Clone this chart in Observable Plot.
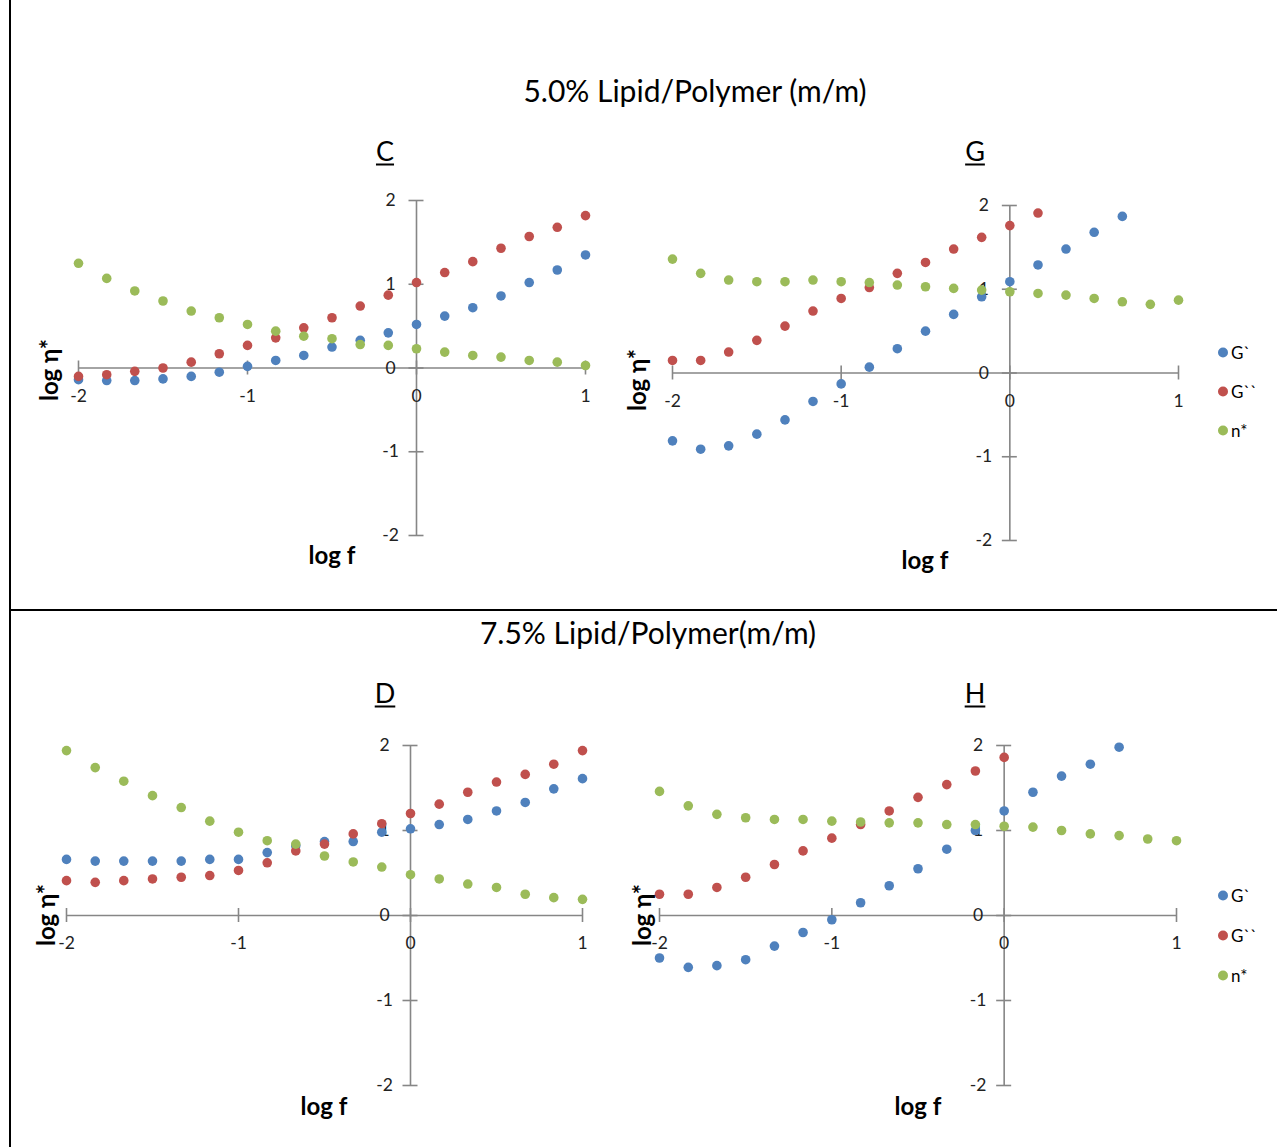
<!DOCTYPE html>
<html><head><meta charset="utf-8">
<script src="https://cdn.jsdelivr.net/npm/d3@7"></script>
<script src="https://cdn.jsdelivr.net/npm/@observablehq/plot@0.6"></script>
<style>
body{margin:0;background:#fff;}
#page{position:relative;width:1277px;height:1147px;font-family:Lato,"Open Sans",sans-serif;overflow:hidden;background:#fff;}
.abs{position:absolute;white-space:nowrap;transform:translate(-50%,-50%);color:#000;}
.title{font-size:30px;}
.letter{font-size:27px;text-decoration:underline;text-underline-offset:3px;text-decoration-thickness:2px;}
.axt{font-size:24px;font-weight:bold;}
.rot{transform:translate(-50%,-50%) rotate(-90deg);}
.leg{position:absolute;font-size:17px;display:flex;align-items:center;transform:translateY(-50%);}
.leg span.dot{display:inline-block;width:10px;height:10px;border-radius:50%;margin-right:3px;}
</style></head><body><div id="page"></div>
<script>
// log f values (19 points, -2 .. 1)
const logF = [-2, -1.833, -1.667, -1.5, -1.333, -1.167, -1, -0.833, -0.667, -0.5, -0.333, -0.167, 0, 0.167, 0.333, 0.5, 0.667, 0.833, 1];
const series = ["G`", "G``", "n*"];
const colors = ["#4F81BD", "#C0504D", "#9BBB59"];
const xTicks = [-2, -1, 0, 1];
const yTicks = [-2, -1, 0, 1, 2];

// Panel C (5.0%)
const C_Gp  = [-0.14, -0.15, -0.15, -0.13, -0.10, -0.05, 0.02, 0.09, 0.15, 0.25, 0.33, 0.42, 0.52, 0.62, 0.72, 0.86, 1.02, 1.17, 1.35];
const C_Gpp = [-0.10, -0.08, -0.04, 0.00, 0.07, 0.17, 0.27, 0.36, 0.48, 0.60, 0.74, 0.87, 1.02, 1.14, 1.27, 1.43, 1.57, 1.68, 1.82];
const C_eta = [1.25, 1.07, 0.92, 0.80, 0.68, 0.60, 0.52, 0.44, 0.38, 0.35, 0.28, 0.27, 0.23, 0.19, 0.15, 0.13, 0.09, 0.07, 0.03];

// Panel G (5.0%)
const G_Gp  = [-0.81, -0.91, -0.87, -0.73, -0.56, -0.34, -0.13, 0.07, 0.29, 0.50, 0.70, 0.91, 1.09, 1.29, 1.48, 1.68, 1.87];
const G_Gpp = [0.15, 0.15, 0.25, 0.39, 0.56, 0.74, 0.89, 1.02, 1.19, 1.32, 1.48, 1.62, 1.76, 1.91];
const G_eta = [1.36, 1.19, 1.11, 1.09, 1.09, 1.11, 1.09, 1.08, 1.05, 1.03, 1.01, 0.99, 0.97, 0.95, 0.93, 0.89, 0.85, 0.82, 0.87];

// Panel D (7.5%)
const D_Gp  = [0.66, 0.64, 0.64, 0.64, 0.64, 0.66, 0.66, 0.74, 0.82, 0.87, 0.87, 0.98, 1.02, 1.07, 1.13, 1.23, 1.33, 1.49, 1.61];
const D_Gpp = [0.41, 0.39, 0.41, 0.43, 0.45, 0.47, 0.53, 0.62, 0.76, 0.84, 0.96, 1.08, 1.20, 1.31, 1.45, 1.57, 1.66, 1.78, 1.94];
const D_eta = [1.94, 1.74, 1.58, 1.41, 1.27, 1.11, 0.98, 0.88, 0.84, 0.70, 0.63, 0.57, 0.48, 0.43, 0.37, 0.33, 0.25, 0.21, 0.19];

// Panel H (7.5%)
const H_Gp  = [-0.50, -0.61, -0.59, -0.52, -0.36, -0.20, -0.05, 0.15, 0.35, 0.55, 0.78, 1.00, 1.23, 1.45, 1.64, 1.78, 1.98];
const H_Gpp = [0.25, 0.25, 0.33, 0.45, 0.60, 0.76, 0.91, 1.07, 1.23, 1.39, 1.54, 1.70, 1.86];
const H_eta = [1.46, 1.29, 1.19, 1.15, 1.13, 1.13, 1.11, 1.10, 1.09, 1.09, 1.07, 1.07, 1.05, 1.04, 1.00, 0.96, 0.94, 0.90, 0.88];

const page = document.getElementById("page");
const AX = "#868686";

function addDiv(cls, text, x, y, extra) {
  const d = document.createElement("div");
  d.className = cls;
  d.textContent = text;
  d.style.left = x + "px";
  d.style.top = y + "px";
  if (extra) Object.assign(d.style, extra);
  page.appendChild(d);
  return d;
}

function panel(o) {
  const rows = [];
  [o.gp, o.gpp, o.eta].forEach((arr, k) => arr.forEach((v, i) => rows.push({f: logF[i], v, s: series[k]})));
  const chart = Plot.plot({
    width: o.width, height: o.height,
    marginLeft: o.px[0] - o.left, marginRight: o.left + o.width - o.px[1],
    marginTop: o.py[0] - o.top, marginBottom: o.top + o.height - o.py[1],
    x: {domain: [-2, 1], axis: null},
    y: {domain: [-2, 2], axis: null},
    color: {domain: series, range: colors},
    style: {fontFamily: "Lato, 'Open Sans', sans-serif", fontSize: "17.5px", color: "#222", background: "transparent", overflow: "visible"},
    marks: [
      Plot.ruleY([0], {x1: -2, x2: 1, stroke: AX, strokeWidth: 1.6}),
      Plot.ruleX([0], {y1: -2, y2: 2, stroke: AX, strokeWidth: 1.6}),
      Plot.ruleX(xTicks, {x: d => d, y1: 0, y2: 0, insetTop: -7, insetBottom: -7, stroke: AX, strokeWidth: 1.6}),
      Plot.ruleY(yTicks, {y: d => d, x1: 0, x2: 0, insetLeft: -7.5, insetRight: -7.5, stroke: AX, strokeWidth: 1.6}),
      Plot.text(xTicks, {x: d => d, y: 0, dy: 28, text: d => String(d), fill: "#222"}),
      Plot.text(yTicks, {x: 0, y: d => d, dx: -26, text: d => String(d), fill: "#222"}),
      Plot.dot(rows, {x: "f", y: "v", fill: "s", r: 4.8, stroke: "none"})
    ]
  });
  chart.style.position = "absolute";
  chart.style.left = o.left + "px";
  chart.style.top = o.top + "px";
  page.appendChild(chart);
  addDiv("abs axt", "log f", o.xl[0], o.xl[1]);
  addDiv("abs axt rot", "log η*", o.yl[0], o.yl[1]);
}

function legend(x, ys) {
  series.forEach((s, k) => {
    const d = document.createElement("div");
    d.className = "leg";
    d.style.left = x + "px";
    d.style.top = ys[k] + "px";
    const dot = document.createElement("span");
    dot.className = "dot";
    dot.style.background = colors[k];
    d.appendChild(dot);
    d.appendChild(document.createTextNode(s));
    page.appendChild(d);
  });
}

// frame lines
const vline = document.createElement("div");
Object.assign(vline.style, {position: "absolute", left: "9px", top: "0px", width: "2px", height: "1147px", background: "#000"});
page.appendChild(vline);
const hline = document.createElement("div");
Object.assign(hline.style, {position: "absolute", left: "9px", top: "609px", width: "1268px", height: "2px", background: "#000"});
page.appendChild(hline);

addDiv("abs title", "5.0% Lipid/Polymer (m/m)", 695, 90);
addDiv("abs title", "7.5% Lipid/Polymer(m/m)", 648, 632);
addDiv("abs letter", "C", 385, 150);
addDiv("abs letter", "G", 975, 150);
addDiv("abs letter", "D", 385, 692);
addDiv("abs letter", "H", 975, 692);

panel({left: 20, top: 170, width: 590, height: 420, px: [78, 585], py: [200, 535], gp: C_Gp, gpp: C_Gpp, eta: C_eta, xl: [332, 554], yl: [48, 370]});
panel({left: 615, top: 170, width: 590, height: 420, px: [672, 1178], py: [205, 540], gp: G_Gp, gpp: G_Gpp, eta: G_eta, xl: [925, 559], yl: [636, 380]});
panel({left: 15, top: 720, width: 600, height: 420, px: [66, 582], py: [745, 1085], gp: D_Gp, gpp: D_Gpp, eta: D_eta, xl: [324, 1105], yl: [45, 915]});
panel({left: 615, top: 720, width: 590, height: 420, px: [659, 1176], py: [745, 1085], gp: H_Gp, gpp: H_Gpp, eta: H_eta, xl: [918, 1105], yl: [641, 915]});

legend(1218, [352, 391, 430]);
legend(1218, [895, 935, 975]);
</script></body></html>
